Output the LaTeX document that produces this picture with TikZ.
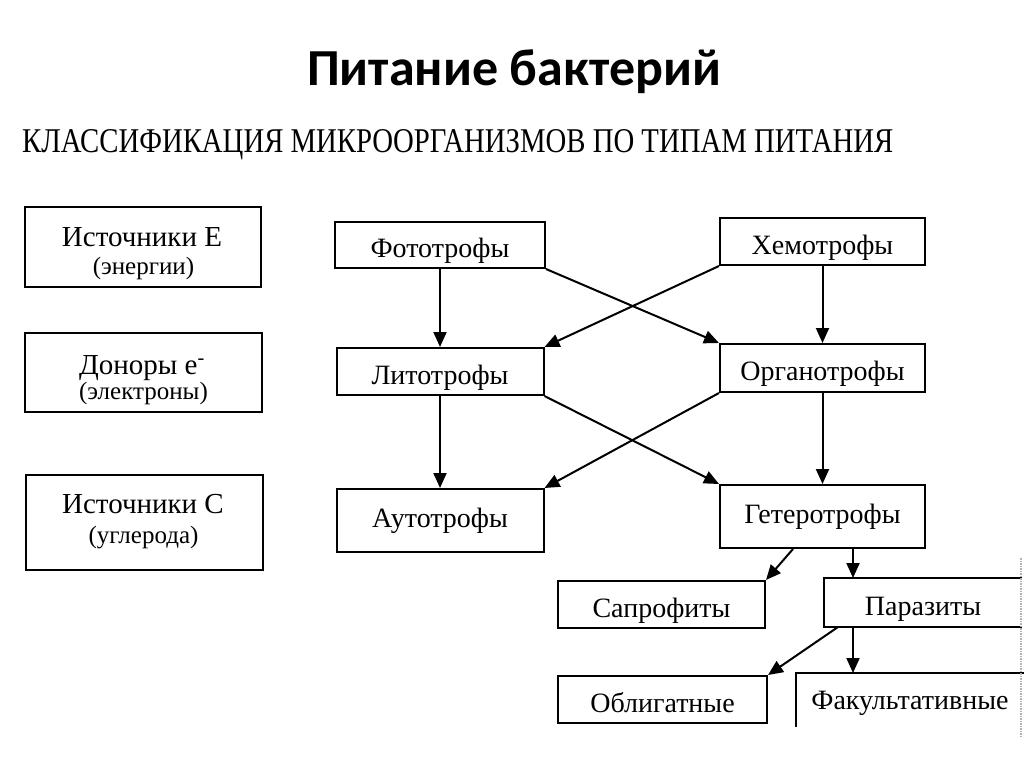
\documentclass[tikz,border=0pt]{standalone}
\usepackage{fontspec}
\setmainfont{Liberation Serif}
\newfontfamily\titlefont{Carlito}
\usetikzlibrary{arrows.meta,calc}
\tikzset{
  box/.style={draw, line width=2pt, inner sep=0pt, font=\fontsize{28}{30}\selectfont, text height=25pt, text depth=0pt},
  tallbox/.style={box, text height=13pt},
  frame/.style={draw, line width=2pt, inner sep=0pt},
  ltext/.style={anchor=base, inner sep=0pt, font=\fontsize{29}{31}\selectfont},
  stext/.style={anchor=base, inner sep=0pt, font=\fontsize{25}{27}\selectfont},
  arr/.style={line width=2pt, -{Triangle[length=15pt,width=13pt]}},
  edge line/.style={line width=2pt},
}
\begin{document}
\begin{tikzpicture}[x=1pt,y=-1pt]
\useasboundingbox (0,0) rectangle (1024,767);
\fill[white] (0,0) rectangle (1024,767);
\node[font=\titlefont\bfseries\fontsize{52}{54}\selectfont, anchor=base] (title) at (514,86) {Питание бактерий};
\node[anchor=base west, inner sep=0pt] (head) at (22,153) {\resizebox{871pt}{23pt}{КЛАССИФИКАЦИЯ МИКРООРГАНИЗМОВ ПО ТИПАМ ПИТАНИЯ}};
% left column
\node[frame, minimum width=236pt, minimum height=80pt] (srcE) at (143,247) {};
\node[ltext] (srcE1) at (142,246) {Источники Е};
\node[stext] (srcE2) at (143.5,274) {(энергии)};
\node[frame, minimum width=237pt, minimum height=79pt] (don) at (143.5,372.5) {};
\node[ltext] (don1) at (142,374) {Доноры е\textsuperscript{-}};
\node[stext] (don2) at (143.5,399) {(электроны)};
\node[frame, minimum width=237pt, minimum height=95pt] (srcC) at (144.5,522.5) {};
\node[ltext] (srcC1) at (143,513) {Источники С};
\node[stext] (srcC2) at (143.5,543) {(углерода)};
% middle
\node[box, minimum width=210pt, minimum height=46pt] (foto) at (440,245) {Фототрофы};
\node[box, minimum width=205pt, minimum height=47pt] (hemo) at (822.5,241.5) {Хемотрофы};
\node[box, minimum width=207pt, minimum height=47pt] (lito) at (440,371.5) {Литотрофы};
\node[box, minimum width=205pt, minimum height=48pt] (organo) at (822.5,368) {Органотрофы};
\node[tallbox, minimum width=207pt, minimum height=63pt] (auto) at (440,520.5) {Аутотрофы};
\node[tallbox, minimum width=205pt, minimum height=63pt] (getero) at (822.5,516.5) {Гетеротрофы};
\node[box, minimum width=207pt, minimum height=47pt] (sapro) at (661.5,604.5) {Сапрофиты};
\node[box, draw=none, minimum width=196pt, minimum height=47pt] (paraz) at (923,602.5) {Паразиты};
\draw[edge line] (paraz.north east) -- (paraz.north west) -- (paraz.south west) -- (paraz.south east);
\node[box, minimum width=209pt, minimum height=47pt] (oblig) at (662.5,699.5) {Облигатные};
\node[box, draw=none, minimum width=226pt, minimum height=52pt, text height=18pt] (fakult) at (910,700) {Факультативные};
\draw[edge line] (fakult.south west) -- (fakult.north west) -- (fakult.north east);
\coordinate (edgetop) at (1021,558);
\coordinate (edgebot) at (1021,736);
\draw[gray!60, line width=1.5pt, densely dotted] (edgetop) -- (edgebot);
% helper x positions
\coordinate (px) at (853,0);
\coordinate (sx) at (793,0);
\coordinate (ox) at (838,0);
% arrows
\draw[arr] (foto.south) -- (lito.north);
\draw[arr] (foto.south east) -- (organo.north west);
\draw[arr] (hemo.south west) -- (lito.north east);
\draw[arr] (hemo.south) -- (organo.north);
\draw[arr] (lito.south) -- (auto.north);
\draw[arr] (lito.south east) -- (getero.north west);
\draw[arr] (organo.south west) -- (auto.north east);
\draw[arr] (organo.south) -- (getero.north);
\draw[arr] (getero.south -| sx) -- (sapro.north east);
\draw[arr] (getero.south -| px) -- (paraz.north -| px);
\draw[arr] (paraz.south -| ox) -- (oblig.north east);
\draw[arr] (paraz.south -| px) -- (fakult.north -| px);
\end{tikzpicture}
\end{document}
